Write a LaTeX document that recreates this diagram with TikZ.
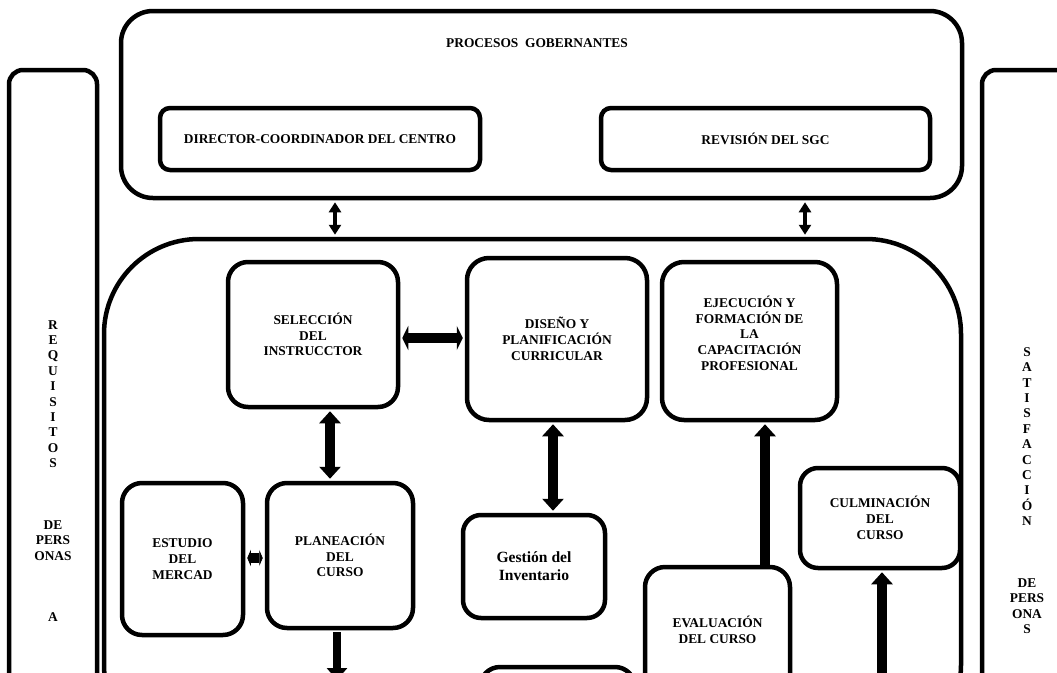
\documentclass[tikz,border=0pt]{standalone}
\usepackage{fontspec}
\setmainfont{Liberation Serif}
\usetikzlibrary{arrows.meta,calc}

\tikzset{
  panel/.style={draw, line width=4.5pt, rounded corners=#1, inner sep=0pt},
  panel/.default=20pt,
  card/.style={panel=#1, fill=white, align=center,
    font=\bfseries\fontsize{13.4}{15.8}\selectfont},
  card/.default=20pt,
  label/.style={align=center, inner sep=0pt,
    font=\bfseries\fontsize{13.4}{15.4}\selectfont},
  fatboth/.style={line width=9.5pt,
    {Triangle[width=21pt,length=12pt]}-{Triangle[width=21pt,length=12pt]},
    shorten <=2pt, shorten >=2pt},
  stubboth/.style 2 args={line width=10pt,
    {Triangle[width=#1,length=#2]}-{Triangle[width=#1,length=#2]},
    shorten <=2pt, shorten >=2pt},
  fatup/.style={line width=9.5pt, -{Triangle[width=21pt,length=12pt]},
    shorten >=2pt},
  thinboth/.style={line width=3.5pt,
    {Triangle[width=12pt,length=10pt]}-{Triangle[width=12pt,length=10pt]},
    shorten <=2pt, shorten >=2pt},
}

\begin{document}
\begin{tikzpicture}[x=1pt,y=-1pt]
\useasboundingbox (0,0) rectangle (1057,672);
\clip (0,0) rectangle (1057,672);

% side columns
\node[panel=14pt, minimum width=88pt, minimum height=690pt] (req) at (53,415) {};
\node[label] (reqtxt) at (53,471)
  {R\\E\\Q\\U\\I\\S\\I\\T\\O\\S\\[46.2pt]DE\\PERS\\ONAS\\[46.2pt]A};
\node[panel=14pt, minimum width=90pt, minimum height=690pt] (sat) at (1027,415) {};
\node[label] (sattxt) at (1027,490.6)
  {S\\A\\T\\I\\S\\F\\A\\C\\C\\I\\Ó\\N\\[46.2pt]DE\\PERS\\ONA\\S};

% governing processes
\node[panel=32pt, minimum width=841pt, minimum height=187pt] (gov) at (541.5,104.5) {};
\node[label] (govtxt) at (537,43) {PROCESOS\ \ GOBERNANTES};
\node[card=10pt, minimum width=320pt, minimum height=62pt] (dir) at (320,139)
  {DIRECTOR-COORDINADOR DEL CENTRO};
\node[card=10pt, minimum width=329pt, minimum height=62pt] (rev) at (765.5,139)
  {REVISIÓN DEL SGC};

% operative processes
\node[panel=95pt, minimum width=857pt, minimum height=521pt] (ops) at (532.5,499.5) {};

\node[card, minimum width=170pt, minimum height=145pt] (sel) at (313,334.5)
  {SELECCIÓN\\DEL\\INSTRUCCTOR};
\node[card=22pt, minimum width=180pt, minimum height=162pt] (dis) at (557,339)
  {DISEÑO Y\\PLANIFICACIÓN\\CURRICULAR};
\node[card=22pt, minimum width=175pt, minimum height=158pt] (eje) at (749.5,341)
  {EJECUCIÓN Y\\FORMACIÓN DE\\LA\\CAPACITACIÓN\\PROFESIONAL\\[0pt]};
\node[card=18pt, minimum width=160pt, minimum height=100pt] (cul) at (880,518)
  {CULMINACIÓN\\DEL\\CURSO};
\node[card, minimum width=121pt, minimum height=152pt] (est) at (182.5,559)
  {ESTUDIO\\DEL\\MERCAD};
\node[card, minimum width=146pt, minimum height=145pt] (pla) at (340,555.5)
  {PLANEACIÓN\\DEL\\CURSO};
\node[card=18pt, minimum width=142pt, minimum height=103pt,
      font=\bfseries\fontsize{15.6}{18}\selectfont] (ges) at (534,566.5)
  {Gestión del\\Inventario};
\node[card, minimum width=145pt, minimum height=126pt] (eva) at (717.5,630)
  {EVALUACIÓN\\DEL CURSO};
\node[card, minimum width=155pt, minimum height=93pt] (low) at (557.5,713.5) {};

\coordinate (culin) at (882,700);
\coordinate (plaout) at (337,680);

% connectors
\draw[thinboth] ([xshift=-206.5pt]gov.south) -- ([xshift=-206.5pt]gov.south |- ops.north);
\draw[thinboth] ([xshift=263.5pt]gov.south) -- ([xshift=263.5pt]gov.south |- ops.north);
\draw[stubboth={24pt}{6pt}] ($(sel.east)+(0,3.5)$) -- ($(sel.east -| dis.west)+(0,3.5)$);
\draw[fatboth] ([xshift=-10pt]pla.north) -- ([xshift=-10pt]pla.north |- sel.south);
\draw[stubboth={16pt}{3.5pt}] ($(est.east)+(0,-1)$) -- ($(est.east -| pla.west)+(0,-1)$);
\draw[fatboth] ([xshift=-4pt]dis.south) -- ([xshift=-4pt]dis.south |- ges.north);
\draw[fatup] ([xshift=15.5pt]eje.south |- eva.north) -- ([xshift=15.5pt]eje.south);
\draw[fatup] (culin) -- (culin |- cul.south);
\draw[line width=8pt, -{Triangle[width=20pt,length=12pt]}, shorten <=2pt]
  (pla.south -| plaout) -- (plaout);
\end{tikzpicture}
\end{document}
